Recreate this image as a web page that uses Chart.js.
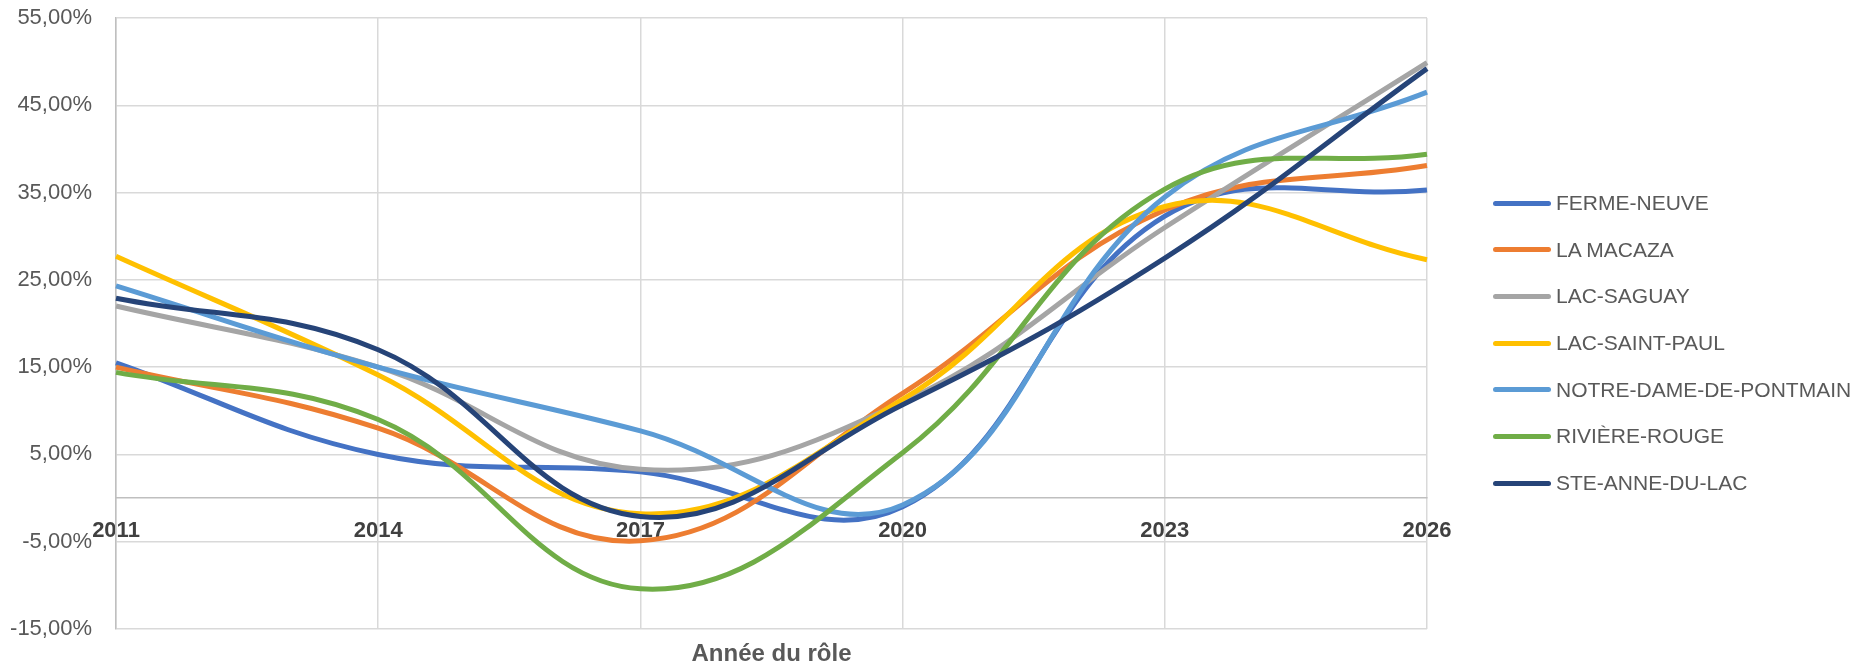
<!DOCTYPE html>
<html>
<head>
<meta charset="utf-8">
<script src="https://cdn.jsdelivr.net/npm/chart.js@4"></script>
<style>
  body { margin: 0; background: #fff; }
  #wrap { position: relative; width: 1875px; height: 666px; }
  #legend { position: absolute; left: 1493px; top: 180px; font-family: "Liberation Sans", Arial, sans-serif; font-size: 21px; color: #595959; }
  .item { position: absolute; left: 0; height: 30px; display: flex; align-items: center; white-space: nowrap; }
  .swatch { width: 58px; height: 5px; border-radius: 3px; margin-right: 5px; }
</style>
</head>
<body>
<div id="wrap">
  <canvas id="chart" width="1875" height="666"></canvas>
  <div id="legend"></div>
</div>
<script>
const years = ['2011', '2014', '2017', '2020', '2023', '2026'];
const yMin = -15;
const yMax = 55;
const yStep = 10;

const fermeNeuve = [15.5, 5.0, 3.0, -1.0, 32.3, 35.3];
const laMacaza = [15.0, 8.0, -4.9, 12.0, 33.0, 38.1];
const lacSaguay = [22.0, 15.0, 3.3, 11.0, 31.0, 49.9];
const lacSaintPaul = [27.7, 14.1, -1.8, 11.3, 33.4, 27.3];
const notreDame = [24.3, 15.0, 7.7, -0.8, 34.5, 46.5];
const riviereRouge = [14.4, 9.0, -10.4, 5.2, 35.4, 39.4];
const steAnne = [22.9, 17.0, -2.1, 10.7, 27.5, 49.2];

const names = ['FERME-NEUVE', 'LA MACAZA', 'LAC-SAGUAY', 'LAC-SAINT-PAUL', 'NOTRE-DAME-DE-PONTMAIN', 'RIVIÈRE-ROUGE', 'STE-ANNE-DU-LAC'];
const series = [fermeNeuve, laMacaza, lacSaguay, lacSaintPaul, notreDame, riviereRouge, steAnne];
const colors = ['#4472C4', '#ED7D31', '#A5A5A5', '#FFC000', '#5B9BD5', '#70AD47', '#264478'];

const axisTitle = {
  id: 'axisTitle',
  afterDraw(chart) {
    const { ctx, chartArea } = chart;
    ctx.save();
    ctx.font = 'bold 24px "Liberation Sans", Arial, sans-serif';
    ctx.fillStyle = '#595959';
    ctx.textAlign = 'center';
    ctx.textBaseline = 'middle';
    ctx.fillText('Année du rôle', (chartArea.left + chartArea.right) / 2, chartArea.bottom + 25);
    ctx.restore();
  }
};

const datasets = series.map((data, i) => ({
  label: names[i],
  data: data,
  borderColor: colors[i],
  backgroundColor: colors[i],
  borderWidth: 5,
  pointRadius: 0,
  tension: 0.4,
  fill: false,
  order: series.length - i
}));

new Chart(document.getElementById('chart'), {
  type: 'line',
  data: { labels: years, datasets },
  options: {
    responsive: false,
    animation: false,
    devicePixelRatio: 1,
    layout: { autoPadding: false, padding: { left: 10, right: 448, top: 18, bottom: 37 } },
    plugins: { legend: { display: false }, tooltip: { enabled: false } },
    scales: {
      x: {
        position: { y: 0 },
        offset: false,
        grid: { color: '#d9d9d9', lineWidth: 1.5, drawTicks: false },
        border: { color: '#bfbfbf', width: 1.5 },
        afterFit(scale) {
          scale.paddingLeft = 0;
          scale.paddingRight = 0;
        },
        ticks: {
          color: '#404040',
          font: { family: '"Liberation Sans", Arial, sans-serif', size: 22, weight: 'bold' },
          padding: 20,
          maxRotation: 0,
          autoSkip: false
        }
      },
      y: {
        min: yMin,
        max: yMax,
        grid: { color: '#d9d9d9', lineWidth: 1.5, drawTicks: false },
        border: { color: '#bfbfbf', width: 1.5 },
        afterFit(scale) {
          scale.width = 106;
          scale.paddingTop = 0;
          scale.paddingBottom = 0;
        },
        ticks: {
          stepSize: yStep,
          color: '#595959',
          padding: 24,
          font: { family: '"Liberation Sans", Arial, sans-serif', size: 22 },
          callback: (v) => v.toFixed(2).replace('.', ',') + '%'
        }
      }
    }
  },
  plugins: [axisTitle]
});

const legend = document.getElementById('legend');
names.forEach((name, i) => {
  const item = document.createElement('div');
  item.className = 'item';
  item.style.top = (i * 46.67 + 8) + 'px';
  const sw = document.createElement('span');
  sw.className = 'swatch';
  sw.style.background = colors[i];
  const txt = document.createElement('span');
  txt.textContent = name;
  item.appendChild(sw);
  item.appendChild(txt);
  legend.appendChild(item);
});
</script>
</body>
</html>
